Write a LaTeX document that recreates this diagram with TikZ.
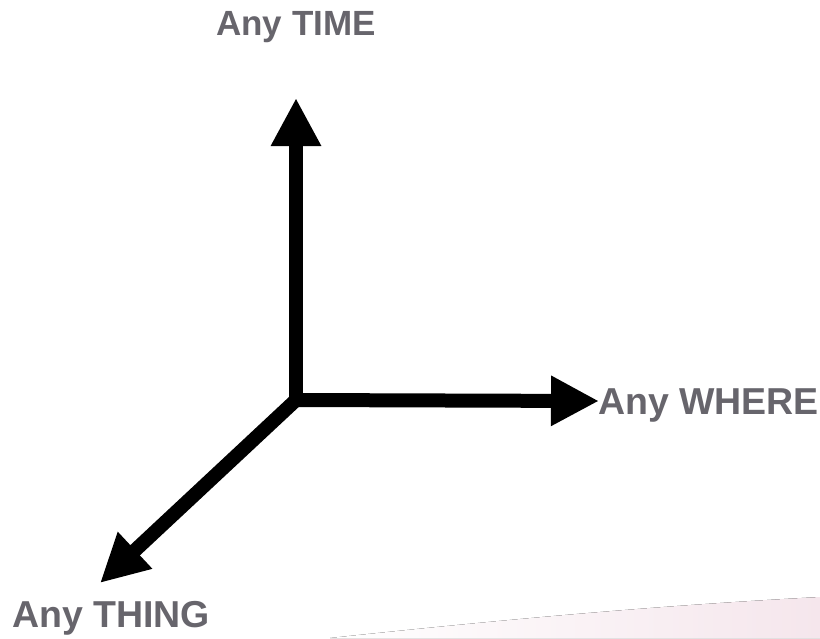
\documentclass[tikz,border=0pt]{standalone}
\usepackage{fontspec}
\setmainfont{Liberation Sans}
\usetikzlibrary{arrows.meta}
\definecolor{labelgray}{RGB}{103,101,108}
\definecolor{swoosh}{RGB}{245,230,236}
\begin{document}
\begin{tikzpicture}[x=1pt,y=-1pt,
  axis/.style={line width=14pt,-{Triangle[length=48pt,width=47pt]}},
  lbl/.style={inner sep=0pt,text=labelgray,font=\fontsize{35}{40}\selectfont\bfseries},
  biglbl/.style={lbl,font=\fontsize{37.5}{42}\selectfont\bfseries}]
\useasboundingbox (0,0) rectangle (820,638);
\fill[left color=white,right color=swoosh,shading angle=90] (330,638) .. controls (500,620) and (650,606) .. (820,597) -- (820,638) -- cycle;
\coordinate (O) at (296,400);
\coordinate (T) at (296,98);
\coordinate (W) at (599,401);
\coordinate (G) at (100,583);
\draw[axis] (O) -- (T);
\draw[axis] (O) -- (W);
\draw[axis] (O) -- (G);
\fill (289,393) rectangle (303,407);
\node[lbl,anchor=base] (ttime) at (296,35) {Any TIME};
\node[biglbl,anchor=base west] (twhere) at (598,414) {Any WHERE};
\node[biglbl,anchor=base west] (tthing) at (12,627) {Any THING};
\end{tikzpicture}
\end{document}
